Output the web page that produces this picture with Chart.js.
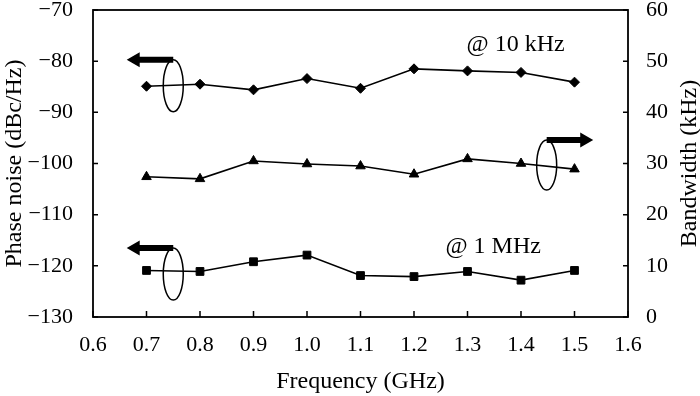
<!DOCTYPE html>
<html>
<head>
<meta charset="utf-8">
<script src="https://cdn.jsdelivr.net/npm/chart.js@4.4.0/dist/chart.umd.min.js"></script>
<style>
  html, body { margin: 0; padding: 0; background: #fff; }
  #wrap { width: 700px; height: 396px; }
</style>
</head>
<body>
<div id="wrap"><canvas id="chart"></canvas></div>
<script>
// Data
const freqs = [0.7, 0.8, 0.9, 1.0, 1.1, 1.2, 1.3, 1.4, 1.5];
const noise10k = [-84.9, -84.5, -85.6, -83.4, -85.3, -81.5, -81.9, -82.2, -84.1];   // dBc/Hz, left axis
const noise1M = [-120.9, -121.1, -119.2, -117.9, -121.9, -122.1, -121.1, -122.8, -120.9]; // dBc/Hz, left axis
const bandwidth = [27.4, 27.0, 30.5, 29.9, 29.5, 27.9, 30.9, 30.0, 28.9];          // kHz, right axis

const xRange = [0.6, 1.6];
const noiseRange = [-130, -70];
const bwRange = [0, 60];

const SERIF = "'Liberation Serif', 'Times New Roman', serif";
const minus = v => (v < 0 ? '\u2212' + Math.abs(v) : String(v));
const toPoints = (ys) => freqs.map((f, i) => ({ x: f, y: ys[i] }));

// Frame, inward tick marks, arrows, ellipses and text labels
const decorations = {
  id: 'decorations',
  afterDraw(chart) {
    const { ctx, chartArea: a, scales } = chart;
    const x = scales.x, y = scales.y, y1 = scales.y1;
    ctx.save();
    ctx.strokeStyle = '#000';
    ctx.fillStyle = '#000';
    ctx.lineWidth = 1.8;
    ctx.strokeRect(a.left, a.top, a.right - a.left, a.bottom - a.top);

    ctx.lineWidth = 1.5;
    ctx.beginPath();
    x.ticks.forEach(t => {
      const px = x.getPixelForValue(t.value);
      ctx.moveTo(px, a.bottom); ctx.lineTo(px, a.bottom - 6);
    });
    y.ticks.forEach(t => {
      const py = y.getPixelForValue(t.value);
      ctx.moveTo(a.left, py); ctx.lineTo(a.left + 5, py);
    });
    y1.ticks.forEach(t => {
      const py = y1.getPixelForValue(t.value);
      ctx.moveTo(a.right, py); ctx.lineTo(a.right - 5, py);
    });
    ctx.stroke();

    // arrow pointing to the axis the curve belongs to, with an ellipse round the curve
    function marker(fx, fy, tipX, scaleY, ry) {
      const cx = x.getPixelForValue(fx);
      const cy = scaleY.getPixelForValue(fy);
      const top = cy - ry;
      const tip = x.getPixelForValue(tipX);
      const dir = Math.sign(tip - cx);
      const headLen = 13, headH = 7.5, shaft = 3;
      ctx.beginPath();
      ctx.moveTo(cx, top - shaft);
      ctx.lineTo(tip - dir * headLen, top - shaft);
      ctx.lineTo(tip - dir * headLen, top - headH);
      ctx.lineTo(tip, top);
      ctx.lineTo(tip - dir * headLen, top + headH);
      ctx.lineTo(tip - dir * headLen, top + shaft);
      ctx.lineTo(cx, top + shaft);
      ctx.closePath();
      ctx.fill();
      ctx.beginPath();
      ctx.lineWidth = 1.5;
      ctx.ellipse(cx, cy, 10, ry, 0, 0, Math.PI * 2);
      ctx.stroke();
    }
    marker(0.75, -84.8, 0.663, y, 26);
    marker(0.75, -121.6, 0.663, y, 26);
    marker(1.448, 29.7, 1.535, y1, 25);

    ctx.font = '24px ' + SERIF;
    ctx.textAlign = 'center';
    ctx.textBaseline = 'middle';
    ctx.fillText('@ 10 kHz', x.getPixelForValue(1.39), y.getPixelForValue(-76.8));
    ctx.fillText('@ 1 MHz', x.getPixelForValue(1.348), y.getPixelForValue(-116.3));

    // right axis title reads bottom to top, like the left one
    ctx.font = '24px ' + SERIF;
    ctx.translate(chart.width - 10, (a.top + a.bottom) / 2);
    ctx.rotate(-Math.PI / 2);
    ctx.fillText('Bandwidth (kHz)', 0, 0);
    ctx.restore();
  }
};

const lineStyle = {
  borderColor: '#000',
  backgroundColor: '#000',
  borderWidth: 1.6,
  pointBackgroundColor: '#000',
  pointBorderColor: '#000',
  pointBorderWidth: 1,
  fill: false,
  tension: 0
};

new Chart(document.getElementById('chart'), {
  type: 'line',
  data: {
    datasets: [
      { ...lineStyle, data: toPoints(noise10k), yAxisID: 'y', pointStyle: 'rectRot', pointRadius: 5 },
      { ...lineStyle, data: toPoints(bandwidth), yAxisID: 'y1', pointStyle: 'triangle', pointRadius: 5.5 },
      { ...lineStyle, data: toPoints(noise1M), yAxisID: 'y', pointStyle: 'rect', pointRadius: 5.5 }
    ]
  },
  options: {
    responsive: true,
    maintainAspectRatio: false,
    animation: false,
    layout: { padding: { top: 10, left: 0, right: 0, bottom: 0 } },
    plugins: { legend: { display: false }, tooltip: { enabled: false } },
    scales: {
      x: {
        type: 'linear',
        min: xRange[0], max: xRange[1],
        grid: { display: false },
        border: { display: false },
        ticks: {
          stepSize: 0.1, color: '#000', padding: 7,
          font: { family: SERIF, size: 22 },
          callback: v => Number(v).toFixed(1)
        },
        title: {
          display: true, text: 'Frequency (GHz)', color: '#000',
          font: { family: SERIF, size: 24 }, padding: { top: 0, bottom: 0 }
        },
        afterFit: s => { s.height = 79; s.paddingLeft = 0; s.paddingRight = 0; }
      },
      y: {
        position: 'left',
        min: noiseRange[0], max: noiseRange[1],
        grid: { display: false },
        border: { display: false },
        ticks: {
          stepSize: 10, color: '#000', padding: 12,
          font: { family: SERIF, size: 22, lineHeight: 1 },
          callback: v => minus(v)
        },
        title: {
          display: true, text: 'Phase noise (dBc/Hz)', color: '#000',
          font: { family: SERIF, size: 24 }, padding: { top: 0, bottom: 0 }
        },
        afterFit: s => { s.width = 93; s.paddingTop = 0; s.paddingBottom = 0; }
      },
      y1: {
        position: 'right',
        min: bwRange[0], max: bwRange[1],
        grid: { display: false },
        border: { display: false },
        ticks: {
          stepSize: 10, color: '#000', padding: 10,
          font: { family: SERIF, size: 22, lineHeight: 1 }
        },
        afterFit: s => { s.width = 72; s.paddingTop = 0; s.paddingBottom = 0; }
      }
    }
  },
  plugins: [decorations]
});
</script>
</body>
</html>
